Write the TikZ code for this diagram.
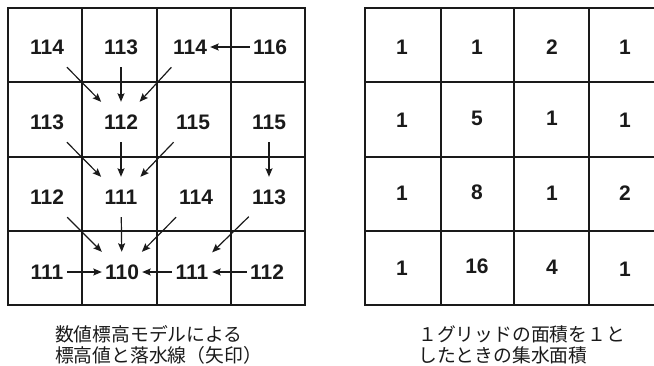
\documentclass[tikz,border=0pt]{standalone}
\usepackage{fontspec}
\setmainfont{Liberation Sans}
\newfontfamily\jpfont{Noto Sans CJK JP}
\usetikzlibrary{arrows.meta}
\definecolor{ink}{HTML}{1A1A1A}

\begin{document}
\begin{tikzpicture}[
  x=1pt, y=-1pt,
  every node/.style={text=ink},
  gridline/.style={draw=ink, line width=1.7pt},
  elev/.style={rectangle, minimum size=40pt, inner sep=0pt, font=\fontsize{21}{25}\selectfont\bfseries},
  area/.style={rectangle, inner sep=0pt, font=\fontsize{21}{25}\selectfont\bfseries},
  flow/.style={-{Stealth[length=8.5pt, width=7pt, inset=1.5pt]}, draw=ink, line width=1.2pt},
  caption/.style={align=left, inner sep=0pt, font=\jpfont\fontsize{18.8}{20.5}\selectfont}
]
  \clip (0,0) rectangle (654,365);

  % left grid: elevation model
  \draw[gridline] (8,8) rectangle (305,305);
  \foreach \p in {82,157,231} {
    \draw[gridline] (\p,8) -- (\p,305);
    \draw[gridline] (8,\p) -- (305,\p);
  }

  % right grid: catchment area
  \draw[gridline] (365,8) rectangle (663,305);
  \foreach \p in {441,514,589} \draw[gridline] (\p,8) -- (\p,305);
  \foreach \p in {82,157,231} \draw[gridline] (365,\p) -- (663,\p);

  % elevation values
  \node[elev] (a11) at (47,47)   {114};
  \node[elev] (a12) at (121,47)  {113};
  \node[elev] (a13) at (190,47)  {114};
  \node[elev] (a14) at (270,47)  {116};
  \node[elev] (a21) at (47,122)  {113};
  \node[elev] (a22) at (121,122) {112};
  \node[elev] (a23) at (193,122) {115};
  \node[elev] (a24) at (269,122) {115};
  \node[elev] (a31) at (47,197)  {112};
  \node[elev] (a32) at (121,197) {111};
  \node[elev] (a33) at (196,197) {114};
  \node[elev] (a34) at (269,197) {113};
  \node[elev] (a41) at (47,272)  {111};
  \node[elev] (a42) at (122,272) {110};
  \node[elev] (a43) at (192,272) {111};
  \node[elev] (a44) at (267,272) {112};

  % flow lines
  \draw[flow] (a11) -- (a22);
  \draw[flow] (a12) -- (a22);
  \draw[flow] (a13) -- (a22);
  \draw[flow] (a14) -- (a13);
  \draw[flow] (a21) -- (a32);
  \draw[flow] (a22) -- (a32);
  \draw[flow] (a23) -- (a32);
  \draw[flow] (a24) -- (a34);
  \draw[flow] (a31) -- (a42);
  \draw[flow] (a32) -- (a42);
  \draw[flow] (a33) -- (a42);
  \draw[flow] (a34) -- (a43);
  \draw[flow] (a41) -- (a42);
  \draw[flow] (a43) -- (a42);
  \draw[flow] (a44) -- (a43);

  % catchment values
  \node[area] (b11) at (402,47)   {1};
  \node[area] (b12) at (477,47)   {1};
  \node[area] (b13) at (552,47)   {2};
  \node[area] (b14) at (625,47)   {1};
  \node[area] (b21) at (402,120)  {1};
  \node[area] (b22) at (477,118)  {5};
  \node[area] (b23) at (552,118)  {1};
  \node[area] (b24) at (625,120)  {1};
  \node[area] (b31) at (402,193)  {1};
  \node[area] (b32) at (477,192)  {8};
  \node[area] (b33) at (552,193)  {1};
  \node[area] (b34) at (625,193)  {2};
  \node[area] (b41) at (402,268)  {1};
  \node[area] (b42) at (477,266)  {16};
  \node[area] (b43) at (552,267)  {4};
  \node[area] (b44) at (625,269)  {1};

  % captions
  \node[caption, anchor=west] (capL) at (55,345)
    {数値標高モデルによる\\標高値と落水線（矢印）};
  \node[caption, anchor=west] (capR) at (418,345)
    {１グリッドの面積を１と\\したときの集水面積};
\end{tikzpicture}
\end{document}
